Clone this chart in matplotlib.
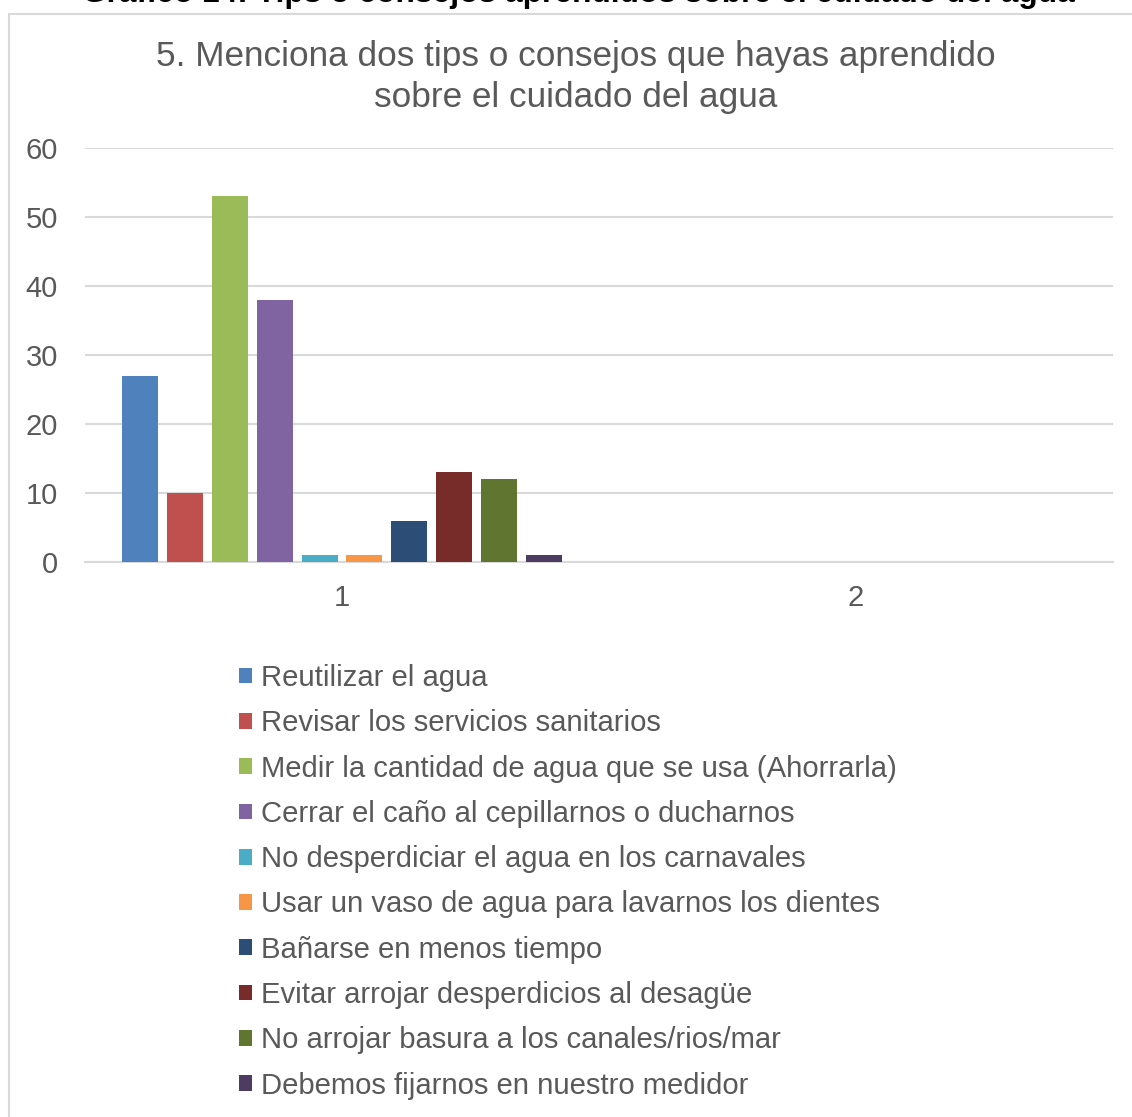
import matplotlib
matplotlib.use("Agg")
import matplotlib.pyplot as plt
import numpy as np
from matplotlib.patches import Rectangle

plt.rcParams['font.family'] = ['Liberation Sans', 'DejaVu Sans']

# datos del grafico
categorias = [1, 2]
series = [
    "Reutilizar el agua",
    "Revisar los servicios sanitarios",
    "Medir la cantidad de agua que se usa (Ahorrarla)",
    "Cerrar el caño al cepillarnos o ducharnos",
    "No desperdiciar el agua en los carnavales",
    "Usar un vaso de agua para lavarnos los dientes",
    "Bañarse en menos tiempo",
    "Evitar arrojar desperdicios al desagüe",
    "No arrojar basura a los canales/rios/mar",
    "Debemos fijarnos en nuestro medidor",
]
valores_1 = [27, 10, 53, 38, 1, 1, 6, 13, 12, 1]
valores_2 = [0, 0, 0, 0, 0, 0, 0, 0, 0, 0]
colores = ["#4F81BD", "#C0504D", "#9BBB59", "#8064A2", "#4BACC6",
           "#F79646", "#2C4D75", "#772C2A", "#5F7530", "#4D3B62"]
y_ticks = [0, 10, 20, 30, 40, 50, 60]

W, H = 1132, 1117
fig = plt.figure(figsize=(W / 100, H / 100), dpi=100)

# marco del grafico (cortado a la derecha y abajo)
fig.patches.append(Rectangle((9 / W, -0.02), 1.1, 1 - 13.5 / H - (-0.02),
                             transform=fig.transFigure, fill=False,
                             edgecolor="#D9D9D9", linewidth=1.5))

# titulo superior cortado
fig.text(578 / W, 1 - 2 / H, "Gráfico 14: Tips o consejos aprendidos sobre el cuidado del agua",
         ha="center", va="baseline", fontsize=22.9, fontweight="bold", color="black")

fig.text(576 / W, 1 - 77 / H, "5. Menciona dos tips o consejos que hayas aprendido\nsobre el cuidado del agua",
         ha="center", va="center", fontsize=25.3, color="#595959", linespacing=1.3)

ax = fig.add_axes([85 / W, (H - 562) / H, (1113 - 85) / W, (562 - 148) / H])
ancho_slot = 0.0875
ancho_barra = 0.07
n = len(series)
x = np.array(categorias, dtype=float)
for i in range(n):
    off = (i - (n - 1) / 2) * ancho_slot
    ax.bar(x + off, [valores_1[i], valores_2[i]], width=ancho_barra,
           color=colores[i], label=series[i], zorder=3)

ax.set_xlim(0.5, 2.5)
ax.set_ylim(0, 60)
ax.set_yticks(y_ticks)
ax.set_xticks(categorias)
ax.tick_params(axis="both", length=0, labelsize=21, colors="#595959")
ax.tick_params(axis="y", pad=19.4)
ax.tick_params(axis="x", pad=16)
ax.grid(axis="y", color="#D9D9D9", linewidth=1.5, zorder=0)
for s in ["top", "right", "left"]:
    ax.spines[s].set_visible(False)
ax.spines["bottom"].set_color("#D9D9D9")
ax.spines["bottom"].set_linewidth(1.5)

leg = fig.legend(loc="upper left", bbox_to_anchor=(239 / W, 1 - 664 / H),
                 frameon=False, fontsize=21.1, labelcolor="#595959",
                 handlelength=0.45, handleheight=0.45, handletextpad=0.3,
                 labelspacing=0.59, borderaxespad=0, borderpad=0)

fig.savefig("out.png", dpi=100)
